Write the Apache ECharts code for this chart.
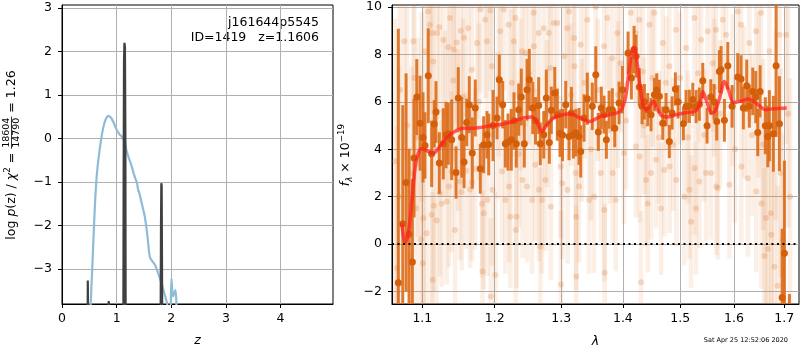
<!DOCTYPE html>
<html>
<head>
<meta charset="utf-8">
<script src="https://cdn.jsdelivr.net/npm/echarts@6/dist/echarts.min.js"></script>
<style>
  html, body { margin: 0; padding: 0; background: #fff; }
  #chart { width: 800px; height: 350px; }
</style>
</head>
<body>
<div id="chart"></div>
<script>
const FONT = '"DejaVu Sans", sans-serif';

// ---- Redshift probability panel ----
const zBlue = [0.50,0.525,0.56,0.60,0.64,0.69,0.75,0.80,0.85,0.90,0.95,1.0,1.05,1.10,1.148,1.179,1.21,1.27,1.33,1.374,1.395,1.41,1.46,1.515,1.56,1.606,1.65,1.698,1.76,1.82,1.87,1.924,1.95,1.98,2.003,2.033,2.076,2.095,2.12];
const logpBlue = [-4.6,-3.81,-2.8,-1.6,-0.8,-0.25,0.22,0.44,0.52,0.47,0.35,0.2,0.1,0.03,-0.08,-0.27,-0.40,-0.62,-0.88,-1.03,-1.2,-1.23,-1.5,-1.80,-2.2,-2.72,-2.82,-2.90,-3.1,-3.33,-3.55,-3.81,-4.2,-4.3,-3.22,-3.64,-3.49,-3.85,-4.6];
const zChi = [0.0,0.466,0.472,0.482,0.488,0.84,0.855,0.867,0.88,1.12,1.128,1.135,1.143,1.152,1.16,1.167,1.80,1.812,1.818,1.824,1.83,1.84,5.0];
const logpChi = [-6,-6,-3.27,-3.3,-6,-4.2,-3.74,-3.76,-4.2,-6,-1.0,1.8,2.2,2.1,0.0,-6,-6,-2.0,-1.03,-1.1,-2.8,-6,-6];
const zTicks = [0, 1, 2, 3, 4];
const logpTicks = [-3, -2, -1, 0, 1, 2, 3];
const zRange = [0, 4.96];
const logpRange = [-3.81, 3.07];

// ---- Spectrum panel ----
const modelLam = [1.0731,1.0774,1.0817,1.0861,1.0904,1.0948,1.0992,1.1035,1.1079,1.1124,1.1168,1.1236,1.1304,1.1372,1.1464,1.1556,1.1696,1.1933,1.2174,1.2421,1.2546,1.2622,1.2698,1.2775,1.2878,1.3033,1.3138,1.3297,1.3458,1.3621,1.3786,1.3953,1.4037,1.4093,1.4150,1.4190,1.4235,1.4292,1.4349,1.4407,1.4465,1.4523,1.4582,1.4670,1.4759,1.4937,1.5118,1.5270,1.5362,1.5412,1.5474,1.5580,1.5642,1.5736,1.5818,1.5895,1.5991,1.6119,1.6281,1.6379,1.6512,1.6611,1.6778,1.7050];
const modelFlux = [0.89,0.06,0.48,1.80,3.20,3.84,4.02,3.98,3.91,3.84,3.87,4.12,4.40,4.61,4.79,4.89,4.89,4.99,5.10,5.32,5.36,5.17,4.75,5.03,5.32,5.46,5.50,5.32,5.17,5.38,5.46,5.60,6.09,7.07,8.06,8.30,7.78,6.65,5.81,5.67,5.84,6.02,5.74,5.41,5.36,5.46,5.55,5.60,5.95,6.44,6.09,5.53,5.60,6.23,6.86,6.51,5.97,6.02,6.12,6.02,5.81,5.67,5.71,5.74];

const binLam = [
  1.0687,1.0744,1.0787,1.0826,1.0869,1.0891,1.0927,1.0970,1.1009,1.1035,
  1.1079,1.1124,1.1159,1.1182,1.1227,1.1281,1.1318,1.1349,1.1395,1.1455,
  1.1486,1.1533,1.1566,1.1603,1.1639,1.1681,1.1723,1.1794,1.1842,1.1889,
  1.1914,1.1976,1.2034,1.2067,1.2116,1.2154,1.2194,1.2242,1.2282,1.2316,
  1.2352,1.2390,1.2435,1.2476,1.2510,1.2562,1.2604,1.2652,1.2677,1.2729,
  1.2769,1.2815,1.2846,1.2899,1.2939,1.2981,1.3020,1.3071,1.3122,1.3159,
  1.3191,1.3229,1.3281,1.3308,1.3361,1.3414,1.3495,1.3551,1.3593,1.3642,
  1.3687,1.3725,1.3770,1.3824,1.3864,1.3936,1.3992,1.4088,1.4144,1.4190,
  1.4224,1.4280,1.4327,1.4367,1.4425,1.4482,1.4540,1.4582,1.4628,1.4688,
  1.4746,1.4805,1.4854,1.4913,1.4961,1.5057,1.5106,1.5166,1.5228,1.5289,
  1.5349,1.5412,1.5492,1.5561,1.5623,1.5673,1.5723,1.5755,1.5818,1.5883,
  1.5965,1.6075,1.6138,1.6183,1.6249,1.6300,1.6367,1.6426,1.6466,1.6512,
  1.6617,1.6665,1.6697,1.6778,1.6833,1.6900,1.6955,1.7002,1.7105
];
const binFlux = [
  -1.62,0.86,2.60,0.42,-0.75,3.63,6.20,5.10,4.50,4.16,
  7.10,3.81,5.07,5.57,3.42,4.23,4.60,4.65,4.40,3.02,
  6.16,4.50,3.46,5.13,5.88,3.84,5.74,3.18,4.19,4.61,
  4.20,5.00,5.32,6.93,5.88,4.23,4.30,4.40,5.20,4.23,
  5.67,6.20,4.23,6.51,6.93,5.74,5.20,5.84,4.23,4.61,
  6.16,4.29,5.64,6.37,5.46,4.68,4.60,5.88,4.54,5.53,
  4.61,4.70,4.54,3.91,5.32,6.13,5.81,7.14,4.73,5.74,
  5.46,4.40,5.67,5.67,4.89,5.95,6.51,8.06,7.00,8.20,
  7.92,6.62,5.81,6.00,5.67,5.46,6.30,6.50,6.23,5.10,
  5.67,4.33,5.53,6.54,6.00,5.08,5.80,5.81,6.10,5.80,
  5.90,6.89,4.99,6.20,6.00,5.17,7.28,7.35,5.22,7.52,
  5.81,7.05,6.96,5.74,6.68,5.81,6.44,6.20,4.71,6.44,
  4.99,4.54,4.99,4.65,7.52,5.08,-2.25,-0.38,-4.50
];
const binErr = [
  10.7,5.0,4.6,3.6,3.5,2.5,1.6,2.0,1.9,1.4,
  2.0,1.4,1.0,1.3,1.3,1.5,1.4,1.3,1.7,1.1,
  1.3,1.7,1.1,1.0,1.2,1.5,1.2,1.05,1.2,1.0,
  1.3,1.5,0.9,1.05,1.0,1.0,1.2,1.3,1.2,1.0,
  1.1,1.2,1.0,1.3,1.3,1.1,1.0,1.2,0.9,1.0,
  1.2,0.9,1.0,1.1,1.1,1.0,1.1,1.0,1.0,1.1,
  1.0,1.0,1.2,1.1,1.0,1.1,1.0,1.2,0.8,0.9,
  0.8,0.8,0.8,0.9,0.8,0.9,1.0,0.9,0.9,1.0,
  0.9,0.8,0.75,0.75,0.7,0.7,0.7,0.7,0.7,0.7,
  0.7,0.7,0.7,0.7,0.7,0.7,0.7,0.7,0.7,0.7,
  0.7,0.75,0.75,0.75,0.75,0.8,0.9,1.0,0.9,1.0,
  0.9,1.0,1.0,0.9,1.1,0.9,1.0,1.1,1.0,1.1,
  1.2,1.3,1.5,1.6,3.0,2.0,2.9,3.9,2.4
];

const faintLam = [
  1.0645,1.0671,1.0696,1.0709,1.0765,1.0800,1.0839,1.0859,1.0882,1.0895,
  1.0917,1.0944,1.0979,1.0990,1.1009,1.1014,1.1035,1.1057,1.1079,1.1101,
  1.1124,1.1131,1.1136,1.1145,1.1154,1.1191,1.1199,1.1227,1.1236,1.1259,
  1.1281,1.1304,1.1327,1.1349,1.1358,1.1372,1.1395,1.1418,1.1427,1.1441,
  1.1464,1.1482,1.1510,1.1520,1.1533,1.1552,1.1566,1.1593,1.1625,1.1649,
  1.1673,1.1676,1.1723,1.1747,1.1775,1.1794,1.1818,1.1826,1.1842,1.1865,
  1.1889,1.1896,1.1937,1.1944,1.1961,1.1969,1.2010,1.2041,1.2056,1.2081,
  1.2106,1.2131,1.2154,1.2204,1.2209,1.2228,1.2251,1.2279,1.2302,1.2310,
  1.2320,1.2356,1.2378,1.2401,1.2409,1.2451,1.2476,1.2506,1.2551,1.2577,
  1.2581,1.2601,1.2652,1.2657,1.2677,1.2703,1.2729,1.2754,1.2779,1.2806,
  1.2831,1.2838,1.2883,1.2939,1.2992,1.2995,1.3016,1.3043,1.3095,1.3099,
  1.3122,1.3154,1.3202,1.3207,1.3229,1.3234,1.3237,1.3281,1.3308,1.3329,
  1.3369,1.3414,1.3442,1.3474,1.3523,1.3551,1.3588,1.3633,1.3687,1.3692,
  1.3697,1.3742,1.3778,1.3824,1.3829,1.3880,1.3907,1.3919,1.3964,1.4020,
  1.4054,1.4134,1.4219,1.4222,1.4280,1.4285,1.4309,1.4338,1.4361,1.4396,
  1.4425,1.4453,1.4482,1.4508,1.4540,1.4570,1.4622,1.4657,1.4688,1.4716,
  1.4746,1.4805,1.4810,1.4872,1.4925,1.4930,1.4997,1.5075,1.5106,1.5142,
  1.5166,1.5197,1.5258,1.5263,1.5289,1.5325,1.5349,1.5381,1.5436,1.5473,
  1.5505,1.5567,1.5599,1.5623,1.5661,1.5667,1.5693,1.5736,1.5787,1.5850,
  1.5914,1.5975,1.6023,1.6075,1.6138,1.6144,1.6197,1.6268,1.6300,1.6353,
  1.6432,1.6438,1.6482,1.6532,1.6538,1.6572,1.6598,1.6631,1.6665,1.6697,
  1.6731,1.6737,1.6798,1.6823,1.6867,1.6900,1.6924,1.6969,1.7037,1.7078,
  1.7118
];
const faintFlux = [
  3.5,-1.0,2.0,6.5,8.55,5.0,-0.5,3.0,8.55,7.0,
  1.52,4.5,0.2,5.8,-0.8,1.1,8.13,0.46,9.81,9.25,
  1.24,8.9,-1.5,7.7,1.62,1.0,8.9,9.14,2.15,1.7,
  8.6,5.5,1.8,8.3,2.43,9.53,3.06,6.9,8.2,0.6,
  8.5,4.8,2.64,9.0,2.2,6.2,8.7,3.1,9.1,2.3,
  7.35,2.6,3.18,8.48,6.0,9.89,1.7,-1.15,1.3,9.46,
  8.55,1.86,9.85,-2.2,7.5,2.29,-1.3,5.0,7.0,8.97,
  3.06,9.89,1.86,9.25,2.43,1.16,6.8,8.55,9.53,0.6,
  1.16,3.8,6.3,8.13,2.71,8.06,2.43,7.2,1.86,9.75,
  8.34,3.35,8.9,2.29,-0.1,1.86,9.1,2.71,5.5,8.9,
  7.42,1.58,9.32,9.32,3.27,-1.7,2.57,7.92,9.1,2.29,
  9.81,6.3,8.69,7.5,3.0,1.16,-1.36,2.43,8.41,4.8,
  6.8,9.46,1.86,4.0,2.0,10.0,6.5,3.0,8.34,1.44,
  -1.2,9.53,4.8,7.84,3.0,1.86,8.9,6.3,7.63,3.84,
  5.2,9.75,8.9,4.12,9.46,3.7,-1.6,7.28,5.0,2.71,
  1.72,9.25,3.0,7.0,9.75,3.56,4.5,1.5,8.48,3.13,
  6.8,7.5,3.27,4.2,9.04,2.71,7.0,2.0,8.27,4.5,
  2.29,0.95,9.53,3.2,1.5,7.2,2.64,8.62,4.6,3.0,
  8.97,3.0,7.63,6.6,9.04,2.43,2.36,5.5,9.46,8.83,
  2.5,6.5,4.0,9.81,9.25,3.27,6.0,2.78,8.48,4.6,
  8.97,2.22,6.3,9.75,1.72,4.2,-0.5,1.1,-0.2,8.13,
  1.3,0.4,-0.95,5.0,-1.75,8.83,3.0,0.17,8.83,5.5,
  2.0
];
const faintErr = [
  6,6,5.5,5.5,5,5,4.6,4.5,4.5,4.3,
  4.2,4.2,4.0,4.0,4.0,3.9,3.9,3.8,3.8,3.8,
  3.7,3.7,3.7,3.7,3.6,3.6,3.6,3.6,3.5,3.5,
  3.5,3.5,3.5,3.5,3.4,3.4,3.4,3.4,3.4,3.4,
  3.4,3.4,3.3,3.3,3.3,3.3,3.3,3.3,3.3,3.3,
  3.3,3.3,3.4,3.2,3.3,3.5,3.1,3.4,3.2,3.3,
  3.1,3.2,3.4,3.3,3.0,3.2,3.5,3.1,3.3,3.2,
  3.0,3.4,3.1,3.3,3.2,3.0,3.1,3.2,3.4,3.3,
  3.0,3.1,3.2,3.0,3.3,3.1,3.2,3.0,3.1,3.4,
  3.0,3.2,3.1,3.0,3.3,3.1,3.2,3.0,3.1,3.2,
  3.0,3.1,3.3,3.2,3.0,3.1,3.2,3.0,3.3,3.1,
  3.2,3.0,3.1,3.2,3.0,3.1,3.0,3.2,3.1,3.0,
  3.2,3.0,3.1,3.0,3.2,3.1,3.0,2.9,3.1,3.0,
  2.9,3.0,3.1,2.9,3.0,3.0,2.9,3.1,2.9,3.0,
  2.9,3.0,2.9,3.0,2.9,2.8,3.0,2.8,2.9,2.8,
  2.9,2.8,2.8,2.9,2.8,2.9,2.8,2.8,2.9,2.8,
  2.8,2.9,2.8,2.8,2.9,2.8,2.8,2.9,2.8,2.8,
  2.9,2.8,2.9,2.8,2.8,2.9,2.8,2.9,2.8,2.9,
  2.9,2.8,2.9,2.9,3.0,2.9,3.0,3.1,3.0,3.1,
  3.1,3.2,3.1,3.2,3.2,3.3,3.2,3.3,3.3,3.4,
  3.4,3.4,3.5,3.5,3.6,3.6,3.7,3.7,3.8,3.8,
  3.9,3.9,4.0,4.0,4.2,4.2,4.4,4.5,4.6,4.8,
  5.0
];
const lamTicks = [1.1, 1.2, 1.3, 1.4, 1.5, 1.6, 1.7];
const fluxTicks = [-2, 0, 2, 4, 6, 8, 10];
const lamRange = [1.0606, 1.7303];
const fluxRange = [-2.52, 10.08];

const titleLines = ['j161644p5545', 'ID=1419   z=1.1606'];
const stamp = 'Sat Apr 25 12:52:06 2020';

// ---- helpers ----
const log10 = Math.log10;
const minus = v => (v < 0 ? '\u2212' + Math.abs(v) : String(v));
const measureCtx = document.createElement('canvas').getContext('2d');
function textWidth(str, font) { measureCtx.font = font; return measureCtx.measureText(str).width; }
function fontOf(size, italic) { return (italic ? 'italic ' : '') + size + 'px ' + FONT; }

// lay out a run of text pieces [text, size, italic, dy] along a baseline
function textRun(pieces, x0) {
  let x = x0;
  const els = [];
  pieces.forEach(([t, size, ital, dy]) => {
    const font = fontOf(size, ital);
    els.push({ type: 'text', x: x, y: dy, style: { text: t, font: font, fill: '#000', align: 'left', verticalAlign: 'middle' } });
    x += textWidth(t, font);
  });
  return { els, end: x };
}
function runWidth(pieces) {
  return pieces.reduce((s, [t, size, ital]) => s + textWidth(t, fontOf(size, ital)), 0);
}

// left panel y label: log p(z) / chi^2 = 18604/14790 = 1.26
const FS = 12.5, SM = 8.75;
const partA = [['log ', FS, false, 0], ['p', FS, true, 0], ['(z) / ', FS, false, 0], ['\u03c7', FS, true, 0], ['2', SM, false, -4], [' = ', FS, false, 0]];
const partC = [[' = 1.26', FS, false, 0]];
const fracFont = fontOf(9.5, false);
const fracW = Math.max(textWidth('18604', fracFont), textWidth('14790', fracFont)) + 2;
const totalW = runWidth(partA) + fracW + runWidth(partC);
const runA = textRun(partA, -totalW / 2);
const fracX = runA.end;
const runC = textRun(partC, fracX + fracW);
const leftLabel = {
  type: 'group', x: 11.5, y: 155, rotation: Math.PI / 2,
  children: runA.els.concat([
    { type: 'text', x: fracX + fracW / 2, y: -4.8, style: { text: '18604', font: fracFont, fill: '#000', align: 'center', verticalAlign: 'middle' } },
    { type: 'rect', shape: { x: fracX, y: -0.4, width: fracW, height: 0.8 }, style: { fill: '#000' } },
    { type: 'text', x: fracX + fracW / 2, y: 5.4, style: { text: '14790', font: fracFont, fill: '#000', align: 'center', verticalAlign: 'middle' } }
  ], runC.els)
};

// right panel y label: f_lambda x 10^-19
const partR = [['f', FS, true, 0], ['\u03bb', SM, true, 3.5], [' \u00d7 10', FS, false, 0], ['\u221219', SM, false, -4.5]];
const rW = runWidth(partR);
const rightLabel = { type: 'group', x: 346, y: 155, rotation: Math.PI / 2, children: textRun(partR, -rW / 2).els };

// error bars drawn through the axis scales
function errorBars(lam, flux, err, color, width, opacity, z) {
  return {
    type: 'custom', xAxisIndex: 1, yAxisIndex: 1, silent: true, z: z,
    data: lam.map((l, i) => [log10(l), flux[i] - err[i], flux[i] + err[i]]),
    encode: { x: 0, y: [1, 2] },
    renderItem(params, api) {
      const cs = params.coordSys;
      const x = api.value(0);
      const a = api.coord([x, api.value(1)]);
      const b = api.coord([x, api.value(2)]);
      const y1 = Math.max(cs.y, Math.min(cs.y + cs.height, a[1]));
      const y2 = Math.max(cs.y, Math.min(cs.y + cs.height, b[1]));
      if (a[0] < cs.x || a[0] > cs.x + cs.width || y1 === y2) return null;
      return { type: 'line', shape: { x1: a[0], y1: y1, x2: a[0], y2: y2 }, style: { stroke: color, lineWidth: width, opacity: opacity } };
    }
  };
}

const axisText = { fontFamily: FONT, fontSize: 12.5, color: '#000' };
function valueAxis(grid, range, ticks, fmt, margin, extra) {
  return Object.assign({
    gridIndex: grid, type: 'value', min: range[0], max: range[1],
    axisLine: { show: true, onZero: false, lineStyle: { color: '#000', width: 1 } },
    axisTick: { show: true, inside: false, length: 4, customValues: ticks, lineStyle: { color: '#000', width: 1 } },
    axisLabel: Object.assign({ customValues: ticks, formatter: fmt, margin: margin }, axisText),
    splitLine: { show: true, lineStyle: { color: '#b0b0b0', width: 1 } }
  }, extra || {});
}

const chart = echarts.init(document.getElementById('chart'), null, { renderer: 'canvas' });
chart.setOption({
  animation: false,
  backgroundColor: '#fff',
  grid: [
    { left: 62, top: 5, width: 271, height: 299, show: true, borderColor: '#000', borderWidth: 1, backgroundColor: 'transparent', outerBoundsMode: 'none', containLabel: false },
    { left: 392, top: 5, width: 407, height: 299, show: true, borderColor: '#000', borderWidth: 1, backgroundColor: 'transparent', outerBoundsMode: 'none', containLabel: false }
  ],
  xAxis: [
    valueAxis(0, zRange, zTicks, v => String(v), 8, {
      name: 'z', nameLocation: 'middle', nameGap: 30,
      nameTextStyle: { fontFamily: FONT, fontSize: 12.5, fontStyle: 'italic', color: '#000' }
    }),
    valueAxis(1, lamRange.map(log10), lamTicks.map(log10), v => Math.pow(10, v).toFixed(1), 8, {
      name: '\u03bb', nameLocation: 'middle', nameGap: 31,
      nameTextStyle: { fontFamily: FONT, fontSize: 12.5, fontStyle: 'italic', color: '#000' }
    })
  ],
  yAxis: [
    valueAxis(0, logpRange, logpTicks, minus, 10),
    valueAxis(1, fluxRange, fluxTicks, minus, 10)
  ],
  series: [
    {
      type: 'line', xAxisIndex: 0, yAxisIndex: 0, showSymbol: false, smooth: 0.3, clip: true, silent: true,
      data: zBlue.map((z, i) => [z, logpBlue[i]]),
      lineStyle: { color: '#8fbbd9', width: 2.2 }
    },
    {
      type: 'line', xAxisIndex: 0, yAxisIndex: 0, showSymbol: false, clip: true, silent: true,
      data: zChi.map((z, i) => [z, logpChi[i]]),
      lineStyle: { color: '#404040', width: 2.2 }
    },
    errorBars(faintLam, faintFlux, faintErr, '#e07b35', 4.5, 0.12, 2),
    {
      type: 'scatter', xAxisIndex: 1, yAxisIndex: 1, silent: true, z: 2, clip: true,
      symbol: 'circle', symbolSize: 6,
      data: faintLam.map((l, i) => [log10(l), faintFlux[i]]),
      itemStyle: { color: '#e07b35', opacity: 0.25 }
    },
    errorBars(binLam, binFlux, binErr, '#dc6c18', 3, 0.9, 3),
    {
      type: 'scatter', xAxisIndex: 1, yAxisIndex: 1, silent: true, z: 3, clip: true,
      symbol: 'circle', symbolSize: 7,
      data: binLam.map((l, i) => [log10(l), binFlux[i]]),
      itemStyle: { color: '#d45f0a', opacity: 1 }
    },
    {
      type: 'line', xAxisIndex: 1, yAxisIndex: 1, showSymbol: false, smooth: 0.3, clip: true, silent: true, z: 4,
      data: modelLam.map((l, i) => [log10(l), modelFlux[i]]),
      lineStyle: { color: '#ff2020', width: 3.5, opacity: 0.72 },
      markLine: {
        silent: true, symbol: ['none', 'none'], label: { show: false },
        lineStyle: { color: '#000', width: 2, type: [2, 3.5], opacity: 1 },
        data: [{ yAxis: 0 }]
      }
    }
  ],
  graphic: [
    leftLabel,
    rightLabel,
    { type: 'text', x: 319, y: 22.7, style: { text: titleLines[0], font: fontOf(12.5, false), fill: '#000', align: 'right', verticalAlign: 'middle' } },
    { type: 'text', x: 319, y: 37.3, style: { text: titleLines[1], font: fontOf(12.5, false), fill: '#000', align: 'right', verticalAlign: 'middle' } },
    { type: 'text', x: 788, y: 340, style: { text: stamp, font: fontOf(6.5, false), fill: '#000', align: 'right', verticalAlign: 'middle' } }
  ]
});
</script>
</body>
</html>
